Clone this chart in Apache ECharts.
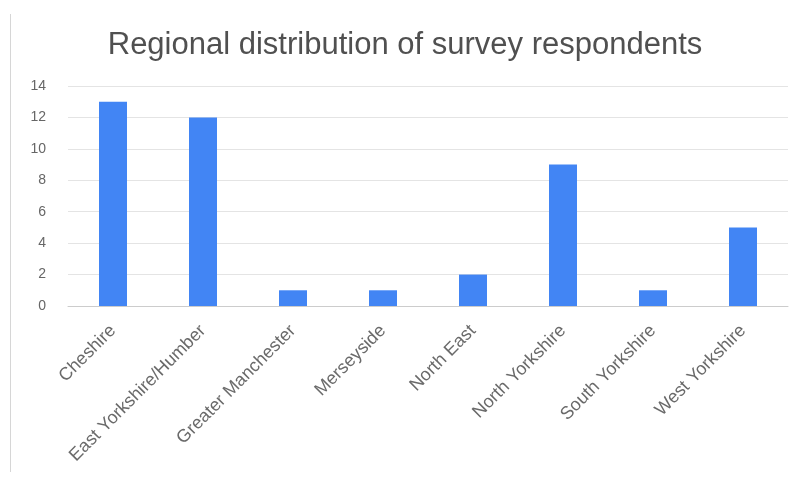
<!DOCTYPE html>
<html>
<head>
<meta charset="utf-8">
<script src="https://cdn.jsdelivr.net/npm/echarts@6/dist/echarts.min.js"></script>
<style>
  html, body { margin: 0; padding: 0; background: #ffffff; }
  #chart { width: 810px; height: 480px; }
</style>
</head>
<body>
<div id="chart"></div>
<script>
// Respondent counts per region
const regions = ["Cheshire", "East Yorkshire/Humber", "Greater Manchester", "Merseyside", "North East", "North Yorkshire", "South Yorkshire", "West Yorkshire"];
const respondents = [13, 12, 1, 1, 2, 9, 1, 5];
const yTicks = [0, 2, 4, 6, 8, 10, 12, 14];

const chart = echarts.init(document.getElementById('chart'), null, { renderer: 'canvas' });

chart.setOption({
  backgroundColor: '#ffffff',
  animation: false,
  textStyle: { fontFamily: 'Liberation Sans, Arial, sans-serif' },
  title: {
    text: 'Regional distribution of survey respondents',
    left: 'center',
    top: 25,
    textStyle: { fontSize: 31, fontWeight: 'normal', color: '#505050', fontFamily: 'Liberation Sans, Arial, sans-serif' }
  },
  graphic: [{
    type: 'line',
    shape: { x1: 10.5, y1: 14, x2: 10.5, y2: 472 },
    style: { stroke: '#d6d6d6', lineWidth: 1 }
  }],
  grid: { left: 68, right: 22, top: 86, bottom: 174, containLabel: false },
  xAxis: {
    type: 'category',
    data: regions,
    axisTick: { show: false },
    axisLine: { show: true, lineStyle: { color: '#cccccc', width: 1 } },
    axisLabel: { rotate: 45, interval: 0, color: '#6a6a6a', fontSize: 18, margin: 22 }
  },
  yAxis: {
    type: 'value',
    min: yTicks[0],
    max: yTicks[yTicks.length - 1],
    interval: 2,
    axisLine: { show: false },
    axisTick: { show: false },
    splitLine: { lineStyle: { color: '#e4e4e4', width: 1 } },
    axisLabel: { color: '#666666', fontSize: 14, margin: 22 }
  },
  series: [{
    type: 'bar',
    data: respondents,
    barWidth: 28,
    itemStyle: { color: '#4285F4' }
  }]
});
</script>
</body>
</html>
